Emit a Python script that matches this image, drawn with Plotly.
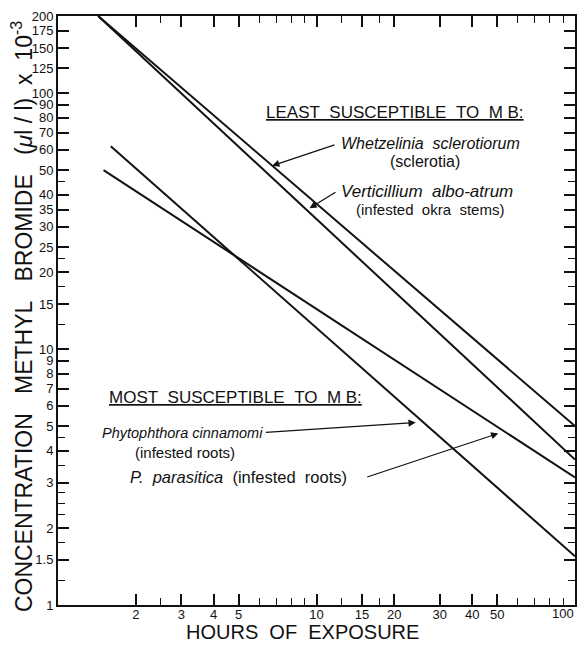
import numpy as np
import plotly.graph_objects as go

# ---- data ----
hours_whetzelinia = [1.43, 100]
conc_whetzelinia = [200, 5.0]
hours_verticillium = [1.43, 100]
conc_verticillium = [200, 3.7]
hours_phytophthora = [1.6, 100]
conc_phytophthora = [62, 1.55]
hours_parasitica = [1.5, 100]
conc_parasitica = [50, 3.15]

x_major = [2, 3, 4, 5, 10, 15, 20, 30, 40, 50, 100]
x_labels = ["2", "3", "4", "5", "10", "15", "20", "30", "40", "50", "100"]
x_minor = [2.5, 6, 7, 8, 9, 12.5, 17.5, 60, 70, 80, 90]
y_major = [1, 1.5, 2, 3, 4, 5, 6, 7, 8, 9, 10, 15, 20, 25, 30, 35, 40, 50,
           60, 70, 80, 90, 100, 125, 150, 175, 200]
y_labels = ["1", "1.5", "2", "3", "4", "5", "6", "7", "8", "9", "10", "15", "20",
            "25", "30", "35", "40", "50", "60", "70", "80", "90", "100", "125",
            "150", "175", "200"]
y_minor = [1.25, 1.75, 2.25, 2.5, 2.75, 3.5, 4.5, 12.5, 17.5, 22.5, 45]

FONT = "Liberation Sans"
INK = "#111111"
SP = "\u00a0"

fig = go.Figure()
for hx, cy in [(hours_whetzelinia, conc_whetzelinia),
               (hours_verticillium, conc_verticillium),
               (hours_phytophthora, conc_phytophthora),
               (hours_parasitica, conc_parasitica)]:
    fig.add_trace(go.Scatter(x=hx, y=cy, mode="lines",
                             line=dict(color=INK, width=2), showlegend=False,
                             hoverinfo="skip"))

L = np.log10


def line_at(hx, cy, h):
    return 10 ** np.interp(L(h), L(hx), L(cy))


def txt(text, x, y, size=15, xanchor="center"):
    return dict(text=text, x=L(x), y=L(y), xref="x", yref="y", showarrow=False,
                xanchor=xanchor, yanchor="middle",
                font=dict(family=FONT, size=size, color=INK))


def arrow(tail, tip):
    return dict(text="", x=L(tip[0]), y=L(tip[1]), ax=L(tail[0]), ay=L(tail[1]),
                xref="x", yref="y", axref="x", ayref="y", showarrow=True,
                arrowhead=2, arrowsize=1.2, arrowwidth=1.2, arrowcolor=INK,
                standoff=0, startstandoff=0)


W2 = SP * 2
annotations = [
    txt(f"<u>LEAST{W2}SUSCEPTIBLE{W2}TO{W2}M{SP}B:</u>", 20.2, 84, size=17),
    txt(f"<i>Whetzelinia{W2}sclerotiorum</i>", 12.2, 63.5, size=16, xanchor="left"),
    txt("(sclerotia)", 26.4, 54.0, size=16),
    txt(f"<i>Verticillium{W2}albo-atrum</i>", 12.2, 41.3, size=17, xanchor="left"),
    txt(f"(infested{W2}okra{W2}stems)", 27.6, 35.2),
    txt(f"<u>MOST{W2}SUSCEPTIBLE{W2}TO{W2}M{SP}B:</u>", 4.85, 6.45, size=17),
    txt(f"<i>Phytophthora{SP}cinnamomi</i>", 6.3, 4.7, size=14.5, xanchor="right"),
    txt(f"(infested{SP}roots)", 3.1, 3.94),
    txt(f"<i>P.{W2}parasitica</i>{W2}(infested{W2}roots)", 1.86, 3.15, size=16.5,
        xanchor="left"),
    arrow((11.9, 63.0), (6.74, line_at(hours_whetzelinia, conc_whetzelinia, 6.74))),
    arrow((12.0, 41.3), (9.4, line_at(hours_verticillium, conc_verticillium, 9.4) * 1.04)),
    arrow((6.28, 4.72), (24.2, 5.16)),
    arrow((15.5, 3.15), (50.5, 4.68)),
    dict(text=f"CONCENTRATION{SP*3}METHYL{SP*3}BROMIDE{SP*3}(<i>\u03bc</i>l{SP}/{SP}l){SP*2}x{SP*2}10<sup>-3</sup>",
         x=-0.0694, y=0.489, xref="paper", yref="paper", textangle=-90,
         showarrow=False, xanchor="center", yanchor="middle",
         font=dict(family=FONT, size=23, color=INK)),
    dict(text=f"HOURS{W2}OF{W2}EXPOSURE", x=0.472, y=-0.0457,
         xref="paper", yref="paper", showarrow=False, xanchor="center",
         yanchor="middle", font=dict(family=FONT, size=20, color=INK)),
    # last x tick label sits at the right edge of the page
    dict(text=x_labels[-1], x=1.0017, y=0, xref="paper", yref="paper",
         showarrow=False, xanchor="right", yanchor="middle", yshift=-8,
         font=dict(family=FONT, size=13, color=INK)),
]

axis_common = dict(type="log", showline=True, linewidth=2, linecolor=INK,
                   mirror="ticks", ticks="inside", ticklen=11, tickwidth=1.5,
                   tickcolor=INK, showgrid=False, zeroline=False,
                   tickfont=dict(family=FONT, size=13, color=INK))

fig.update_layout(
    width=570, height=634,
    margin=dict(l=50, r=1, t=6, b=37),
    paper_bgcolor="white", plot_bgcolor="white",
    xaxis=dict(axis_common, range=[0, 2], tickmode="array", tickvals=x_major,
               ticktext=x_labels, ticklabelstandoff=-4,
               ticklabeloverflow="hide past div",
               minor=dict(tickmode="array", tickvals=x_minor, ticks="inside",
                          ticklen=7, tickwidth=1.3, tickcolor=INK, showgrid=False)),
    yaxis=dict(axis_common, range=[0, L(200)], tickmode="array", tickvals=y_major,
               ticktext=y_labels, ticklabeloverflow="allow",
               minor=dict(tickmode="array", tickvals=y_minor, ticks="inside",
                          ticklen=7, tickwidth=1.3, tickcolor=INK, showgrid=False)),
    annotations=annotations,
)

fig.write_html("out.html")
